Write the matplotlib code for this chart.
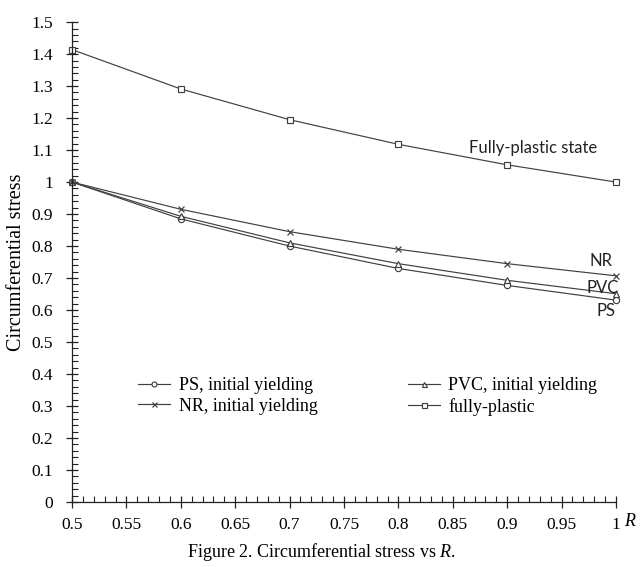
import matplotlib
matplotlib.use("Agg")
import matplotlib.pyplot as plt
from matplotlib.ticker import MultipleLocator

plt.rcParams["mathtext.fontset"] = "custom"
plt.rcParams["mathtext.rm"] = "Liberation Serif"
plt.rcParams["mathtext.it"] = "Liberation Serif:italic"

R = [0.5, 0.6, 0.7, 0.8, 0.9, 1.0]
ps = [1.0, 0.885, 0.800, 0.730, 0.677, 0.631]
pvc = [1.0, 0.893, 0.810, 0.745, 0.693, 0.651]
nr = [1.0, 0.915, 0.845, 0.790, 0.745, 0.707]
fully = [1.414, 1.291, 1.195, 1.118, 1.054, 1.0]

serif = ["Liberation Serif", "DejaVu Serif"]
sans = ["Lato", "DejaVu Sans"]

fig = plt.figure(figsize=(6.43, 5.67), dpi=100)
ax = fig.add_axes([0.112, 0.1146, 0.846, 0.8464])

lc = "#404040"
kw = dict(color=lc, lw=0.85, markersize=4.5, markerfacecolor="white", markeredgewidth=0.85, clip_on=False)
h_ps, = ax.plot(R, ps, marker="o", label="PS, initial yielding", **kw)
h_pvc, = ax.plot(R, pvc, marker="^", label="PVC, initial yielding", **kw)
h_nr, = ax.plot(R, nr, marker="x", label="NR, initial yielding", **kw)
h_fp, = ax.plot(R, fully, marker="s", label="fully-plastic", **kw)

ax.set_xlim(0.5, 1.0)
ax.set_ylim(0, 1.5)
ax.xaxis.set_minor_locator(MultipleLocator(0.01))
ax.yaxis.set_minor_locator(MultipleLocator(0.02))

xt = [0.5 + 0.05 * i for i in range(11)]
ax.set_xticks(xt)
ax.set_xticklabels(["0.5", "0.55", "0.6", "0.65", "0.7", "0.75", "0.8", "0.85", "0.9", "0.95", "1"],
                   family=serif, fontsize=12.5)
yt = [0.1 * i for i in range(16)]
ax.set_yticks(yt)
ax.set_yticklabels(["0", "0.1", "0.2", "0.3", "0.4", "0.5", "0.6", "0.7", "0.8", "0.9", "1",
                    "1.1", "1.2", "1.3", "1.4", "1.5"], family=serif, fontsize=12.5)

for s in ["top", "right"]:
    ax.spines[s].set_visible(False)
for s in ["left", "bottom"]:
    ax.spines[s].set_linewidth(0.9)
    ax.spines[s].set_color("#222222")

ax.tick_params(which="major", direction="inout", length=9, width=0.9, color="#222222")
ax.tick_params(which="minor", direction="in", length=4, width=0.8, color="#222222")
ax.tick_params(axis="x", which="major", pad=6)
ax.tick_params(axis="y", which="major", pad=9)

ax.set_ylabel("Circumferential stress", family=serif, fontsize=14.5, labelpad=4)

ax.text(0.924, 1.105, "Fully-plastic state", family=sans, fontsize=12, ha="center", va="center", color="#222222")
ax.text(0.986, 0.752, "NR", family=sans, fontsize=12, ha="center", va="center", color="#222222")
ax.text(0.988, 0.668, "PVC", family=sans, fontsize=12, ha="center", va="center", color="#222222")
ax.text(0.991, 0.598, "PS", family=sans, fontsize=12, ha="center", va="center", color="#222222")

leg = ax.legend(handles=[h_ps, h_nr, h_pvc, h_fp], ncol=2, frameon=False,
                loc="center left", bbox_to_anchor=(0.108, 0.22), borderaxespad=0,
                prop={"family": serif, "size": 13}, handlelength=1.8,
                handletextpad=0.45, columnspacing=5.0, labelspacing=0.2, markerscale=0.8)

fig.text(630 / 643, (567 - 522) / 567, "R", family=serif, style="italic",
         fontsize=13, ha="center", va="center")
fig.text(0.5, (567 - 552) / 567, "Figure 2. Circumferential stress vs $R$.", family=serif,
         fontsize=13, ha="center", va="center")
fig.savefig("out.png", dpi=100)
